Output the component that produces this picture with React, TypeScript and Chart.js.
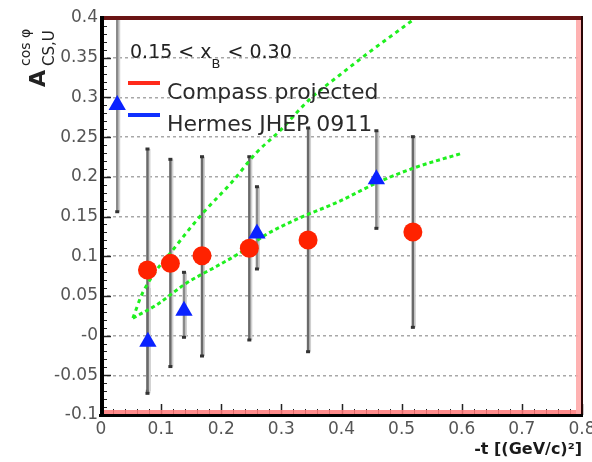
import React, { useEffect, useRef } from 'react';
import { Chart, registerables } from 'chart.js';

Chart.register(...registerables);

// ---- axis ticks ----
const xTickValues = [0, 0.1, 0.2, 0.3, 0.4, 0.5, 0.6, 0.7, 0.8];
const xTickLabels = ['0', '0.1', '0.2', '0.3', '0.4', '0.5', '0.6', '0.7', '0.8'];
const yTickValues = [-0.1, -0.05, 0, 0.05, 0.1, 0.15, 0.2, 0.25, 0.3, 0.35, 0.4];
const yTickLabels = ['-0.1', '-0.05', '-0', '0.05', '0.1', '0.15', '0.2', '0.25', '0.3', '0.35', '0.4'];

// ---- Compass projected (red circles) ----
const compassT = [0.0773, 0.1154, 0.168, 0.2467, 0.3444, 0.5187];
const compassA = [0.0826, 0.091, 0.1006, 0.11, 0.1204, 0.1305];
const compassLo = [-0.0727, -0.039, -0.0257, -0.0055, -0.0203, 0.0104];
const compassHi = [0.235, 0.222, 0.2253, 0.2253, 0.2615, 0.2505];

// ---- Hermes JHEP 0911 (blue triangles) ----
const hermesT = [0.027, 0.078, 0.138, 0.2594, 0.458];
const hermesA = [0.2904, -0.0077, 0.0312, 0.1286, 0.197];
const hermesLo = [0.156, -0.07, -0.0021, 0.0839, 0.1351];
const hermesHi = [0.43, 0.06, 0.0797, 0.1875, 0.258];

// ---- model curves (green dashed) ----
const modelSteepT = [0.053, 0.07, 0.128, 0.168, 0.2185, 0.258, 0.299, 0.346, 0.395, 0.448, 0.5, 0.523, 0.545];
const modelSteepA = [0.022, 0.055, 0.116, 0.153, 0.194, 0.23, 0.259, 0.297, 0.327, 0.358, 0.387, 0.4, 0.412];
const modelFlatT = [0.053, 0.092, 0.142, 0.1915, 0.23, 0.274, 0.324, 0.396, 0.462, 0.52, 0.6];
const modelFlatA = [0.022, 0.0385, 0.066, 0.087, 0.1037, 0.127, 0.146, 0.169, 0.1935, 0.211, 0.2296];

const legendLabels = ['Compass projected', 'Hermes JHEP 0911'];
const legendColors = ['#ff2a1a', '#1030ff'];
const binLabelParts = ['0.15 < x', 'B', ' < 0.30'];
const xTitle = '-t [(GeV/c)²]';
const yTitleParts = ['A', 'cos φ', 'CS,U'];

const FONT = "'DejaVu Sans', 'Liberation Sans', Arial, sans-serif";

const pts = (xs: number[], ys: number[]) => xs.map((x, i) => ({ x, y: ys[i] }));

const errorBarPlugin = {
  id: 'errorBars',
  beforeDatasetsDraw(chart: any) {
    const { ctx, chartArea, scales } = chart;
    const xs = scales.x;
    const ys = scales.y;
    ctx.save();
    ctx.beginPath();
    ctx.rect(chartArea.left, chartArea.top, chartArea.right - chartArea.left, chartArea.bottom - chartArea.top);
    ctx.clip();
    const draw = (ts: number[], lo: number[], hi: number[], color: string) => {
      ts.forEach((t, i) => {
        const px = xs.getPixelForValue(t);
        const p1 = ys.getPixelForValue(lo[i]);
        const p2 = ys.getPixelForValue(hi[i]);
        ctx.strokeStyle = '#d0d0d0';
        ctx.lineWidth = 2;
        ctx.beginPath();
        ctx.moveTo(px + 2, p1);
        ctx.lineTo(px + 2, p2);
        ctx.stroke();
        ctx.strokeStyle = color;
        ctx.lineWidth = 2.5;
        ctx.beginPath();
        ctx.moveTo(px, p1);
        ctx.lineTo(px, p2);
        ctx.stroke();
        ctx.fillStyle = '#333';
        ctx.fillRect(px - 2, p1 - 1.5, 4, 3);
        ctx.fillRect(px - 2, p2 - 1.5, 4, 3);
      });
    };
    draw(hermesT, hermesLo, hermesHi, '#8a8a8a');
    draw(compassT, compassLo, compassHi, '#6a6a6a');
    ctx.restore();
  },
};

const frameAndTextPlugin = {
  id: 'frameAndText',
  afterDraw(chart: any) {
    const { ctx, chartArea, scales } = chart;
    const { left, right, top, bottom } = chartArea;
    const xs = scales.x;
    const ys = scales.y;
    ctx.save();

    // inner tick marks
    ctx.strokeStyle = '#222';
    for (let k = -10; k <= 40; k++) {
      const py = Math.round(ys.getPixelForValue(k / 100)) + 0.5;
      const major = k % 5 === 0;
      ctx.lineWidth = major ? 1.5 : 1;
      ctx.beginPath();
      ctx.moveTo(left, py);
      ctx.lineTo(left + (major ? 10 : 6), py);
      ctx.stroke();
    }
    for (let k = 0; k <= 40; k++) {
      const px = Math.round(xs.getPixelForValue(k / 50)) + 0.5;
      const major = k % 5 === 0;
      ctx.lineWidth = major ? 1.5 : 1;
      ctx.beginPath();
      ctx.moveTo(px, bottom);
      ctx.lineTo(px, bottom - (major ? 11 : 6));
      ctx.stroke();
    }

    // frame
    ctx.fillStyle = 'rgba(255,120,120,0.85)';
    ctx.fillRect(left, bottom - 5, right - left, 4);
    ctx.fillStyle = 'rgba(255,170,170,0.9)';
    ctx.fillRect(right - 6, top, 5, bottom - top);
    ctx.fillStyle = '#6b1515';
    ctx.fillRect(left, top - 2, right - left + 1, 4);
    ctx.fillStyle = '#2a0505';
    ctx.fillRect(right - 1, top - 2, 2, bottom - top + 4);
    ctx.fillStyle = '#000';
    ctx.fillRect(left - 2, bottom - 1, right - left + 3, 3);
    ctx.fillRect(left - 1, top - 2, 4, bottom - top + 4);

    // bin label
    ctx.fillStyle = '#222';
    ctx.textBaseline = 'alphabetic';
    ctx.textAlign = 'left';
    ctx.font = `19px ${FONT}`;
    let tx = left + 29;
    ctx.fillText(binLabelParts[0], tx, top + 40);
    tx += ctx.measureText(binLabelParts[0]).width;
    ctx.font = `13px ${FONT}`;
    ctx.fillText(binLabelParts[1], tx, top + 50);
    tx += ctx.measureText(binLabelParts[1]).width + 1;
    ctx.font = `19px ${FONT}`;
    ctx.fillText(binLabelParts[2], tx, top + 40);

    // legend
    ctx.font = `22px ${FONT}`;
    const rows = [top + 73, top + 105];
    legendLabels.forEach((lab, i) => {
      ctx.strokeStyle = legendColors[i];
      ctx.lineWidth = 4;
      ctx.beginPath();
      ctx.moveTo(left + 27, rows[i] - 8);
      ctx.lineTo(left + 59, rows[i] - 8);
      ctx.stroke();
      ctx.fillStyle = '#2a2a2a';
      ctx.fillText(lab, left + 66, rows[i] + 8);
    });

    // y title, rotated
    ctx.translate(45, 87);
    ctx.rotate(-Math.PI / 2);
    ctx.fillStyle = '#222';
    ctx.font = `bold 22px ${FONT}`;
    ctx.fillText(yTitleParts[0], 0, 0);
    const aw = ctx.measureText(yTitleParts[0]).width;
    ctx.font = `14px ${FONT}`;
    ctx.fillText(yTitleParts[1], aw + 4, -15);
    ctx.font = `15px ${FONT}`;
    ctx.fillText(yTitleParts[2], aw + 4, 9);

    ctx.restore();
  },
};

export default function App() {
  const ref = useRef<HTMLCanvasElement | null>(null);

  useEffect(() => {
    if (!ref.current) return;
    const chart = new Chart(ref.current, {
      type: 'scatter',
      data: {
        datasets: [
          {
            type: 'line',
            label: 'model A',
            data: pts(modelSteepT, modelSteepA),
            borderColor: '#1ff01f',
            borderWidth: 3,
            borderDash: [4, 4],
            pointRadius: 0,
            fill: false,
            cubicInterpolationMode: 'monotone',
            order: 4,
          } as any,
          {
            type: 'line',
            label: 'model B',
            data: pts(modelFlatT, modelFlatA),
            borderColor: '#1ff01f',
            borderWidth: 3,
            borderDash: [4, 3],
            pointRadius: 0,
            fill: false,
            cubicInterpolationMode: 'monotone',
            order: 3,
          } as any,
          {
            label: legendLabels[1],
            data: pts(hermesT, hermesA),
            pointStyle: 'triangle',
            pointRadius: 10,
            backgroundColor: '#0a22ff',
            borderColor: '#0a22ff',
            borderWidth: 0,
            order: 2,
          },
          {
            label: legendLabels[0],
            data: pts(compassT, compassA),
            pointStyle: 'circle',
            pointRadius: 9.5,
            backgroundColor: '#ff2200',
            borderColor: '#ff2200',
            borderWidth: 0,
            order: 1,
          },
        ],
      },
      options: {
        animation: false,
        responsive: false,
        maintainAspectRatio: false,
        layout: { padding: { top: 18, right: 8, left: 0, bottom: 0 } },
        plugins: { legend: { display: false }, tooltip: { enabled: false } },
        scales: {
          x: {
            type: 'linear',
            min: 0,
            max: 0.8,
            afterBuildTicks: (s: any) => {
              s.ticks = xTickValues.map((v) => ({ value: v }));
            },
            afterFit: (s: any) => {
              s.height = 47;
              s.paddingLeft = 0;
              s.paddingRight = 0;
            },
            ticks: {
              autoSkip: false,
              maxRotation: 0,
              padding: 4,
              color: '#555',
              font: { family: FONT, size: 17 },
              callback: (_v: any, i: number) => xTickLabels[i],
            },
            grid: { display: false, drawTicks: false },
            border: { display: false },
            title: {
              display: true,
              text: xTitle,
              align: 'end',
              color: '#1a1a1a',
              font: { family: FONT, size: 16, weight: 'bold' },
              padding: { top: 0, bottom: 3 },
            },
          },
          y: {
            type: 'linear',
            min: -0.1,
            max: 0.4,
            afterBuildTicks: (s: any) => {
              s.ticks = yTickValues.map((v) => ({ value: v }));
            },
            afterFit: (s: any) => {
              s.width = 101;
              s.paddingTop = 0;
              s.paddingBottom = 0;
            },
            ticks: {
              autoSkip: false,
              padding: 3,
              color: '#555',
              font: { family: FONT, size: 17 },
              callback: (_v: any, i: number) => yTickLabels[i],
            },
            grid: { color: '#a8a8a8', lineWidth: 1.5, drawTicks: false },
            border: { display: false, dash: [3, 3] },
          },
        },
      } as any,
      plugins: [errorBarPlugin, frameAndTextPlugin],
    });
    return () => chart.destroy();
  }, []);

  return (
    <div style={{ position: 'fixed', left: 0, top: 0, width: 592, height: 462, background: '#fff' }}>
      <canvas ref={ref} width={592} height={462} style={{ display: 'block', width: 592, height: 462 }} />
    </div>
  );
}
